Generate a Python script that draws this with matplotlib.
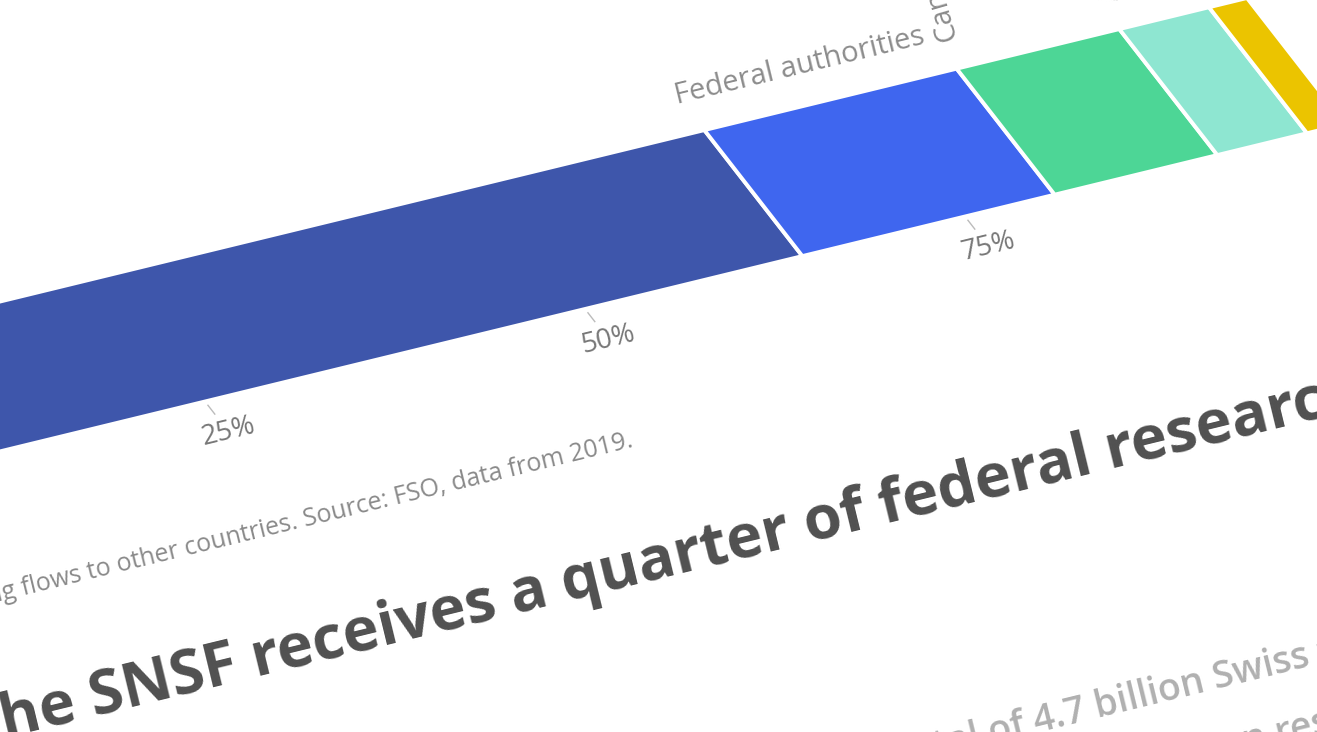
import numpy as np
import matplotlib.pyplot as plt
import matplotlib.transforms as mtransforms

# funding sources of Swiss R&D, share of total in percent
sources = ["Private sector", "Federal authorities", "Cantons", "Abroad", "Other"]
shares = [64.3, 16.6, 10.7, 5.9, 2.5]
colors = ["#3e56ab", "#3f66ef", "#4dd696", "#8ee6d1", "#ebc400"]

ticks = [25, 50, 75]
tick_labels = ["25%", "50%", "75%"]

title = "The SNSF receives a quarter of federal research funding"
subtitle = ["Of a total of 4.7 billion Swiss francs the federal",
            "government spends on research, the SNSF receives a quarter."]
note = ("Gross domestic expenditure on R&D, excluding funding flows to other "
        "countries. Source: FSO, data from 2019.")

plt.rcParams['font.family'] = ['Open Sans', 'DejaVu Sans']

fig = plt.figure(figsize=(13.17, 7.32), dpi=100)
ax = fig.add_axes([0, 0, 1, 1])

# the chart is seen at an angle: page units (percent along the bar,
# bar heights downwards) mapped onto the picture
page = mtransforms.Affine2D.from_values(15.2, -3.7, 98, 126, -273, 368) + ax.transData
ang = np.degrees(np.arctan2(3.7, 15.2))

lefts = np.concatenate([[0], np.cumsum(shares)[:-1]])
ax.barh(0.5, shares, left=lefts, height=1.0, color=colors,
        edgecolor="white", linewidth=2.8, transform=page)

# segment labels: wide segments get a flat label, narrow ones a vertical one
for name, left, share in zip(sources, lefts, shares):
    if share > 15:
        ax.text(left - 0.4, -0.22, name, transform=page, rotation=ang,
                rotation_mode="anchor", ha="left", va="baseline",
                fontsize=21, color="#8c8c8c")
    else:
        ax.text(left + 0.8, -0.2, name, transform=page, rotation=106,
                rotation_mode="anchor", ha="left", va="center",
                fontsize=21, color="#8c8c8c")

for t, lab in zip(ticks, tick_labels):
    ax.plot([t, t], [1.03, 1.1], color="#bbbbbb", lw=1, transform=page)
    ax.text(t, 1.24, lab, transform=page, rotation=ang, rotation_mode="anchor",
            ha="center", va="center", fontsize=20, color="#777777")

ax.text(46.8, 2.0, note, transform=page, rotation=ang, rotation_mode="anchor",
        ha="right", va="baseline", fontsize=18, color="#8a8a8a")

ax.text(-2.8, 2.92, title, transform=page, rotation=ang, rotation_mode="anchor",
        ha="left", va="baseline", fontsize=44, fontweight="bold", color="#505050")

ax.text(42.4, 4.56, subtitle[0], transform=page, rotation=ang, rotation_mode="anchor",
        ha="left", va="baseline", fontsize=27, fontweight="semibold", color="#b0b0b0")
ax.text(42.4, 5.03, subtitle[1], transform=page, rotation=ang, rotation_mode="anchor",
        ha="left", va="baseline", fontsize=27, fontweight="semibold", color="#b0b0b0")

ax.set_xlim(0, 1317)
ax.set_ylim(732, 0)
ax.axis("off")

fig.savefig("out.png", dpi=100)
